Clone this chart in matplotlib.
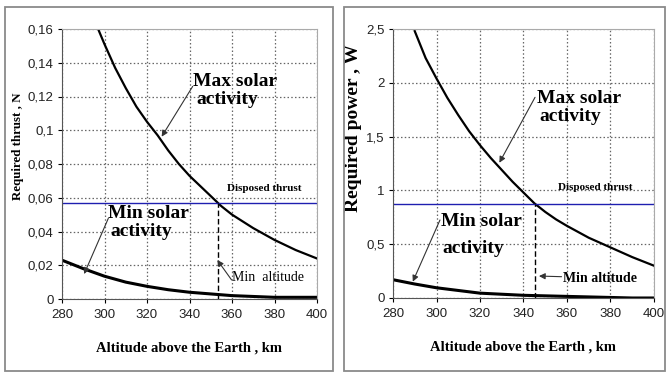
"""
Two panels: thrust and power needed to hold altitude, max / min solar activity
"""
import matplotlib
matplotlib.use('Agg')
import matplotlib.pyplot as plt
from matplotlib.patches import Rectangle
from matplotlib.ticker import FuncFormatter

# data
alt_max_thrust = [297, 300, 305, 310, 315, 320, 325, 330, 335, 340, 345, 350, 355,
                  360, 370, 380, 390, 400]
thrust_max = [0.160, 0.151, 0.137, 0.125, 0.114, 0.105, 0.097, 0.088, 0.080, 0.073,
              0.067, 0.061, 0.055, 0.050, 0.042, 0.035, 0.029, 0.024]
alt_min = [280, 290, 300, 310, 320, 330, 340, 350, 360, 370, 380, 390, 400]
thrust_min = [0.023, 0.018, 0.0135, 0.010, 0.0075, 0.0055, 0.004, 0.003, 0.002,
              0.0015, 0.001, 0.001, 0.001]
disposed_thrust = 0.0567
min_alt_thrust = 353.6

alt_max_power = [290, 295, 300, 305, 310, 315, 320, 325, 330, 335, 340, 345, 350,
                 355, 360, 370, 380, 390, 400]
power_max = [2.48, 2.23, 2.04, 1.86, 1.70, 1.55, 1.42, 1.30, 1.19, 1.08, 0.98, 0.88,
             0.80, 0.73, 0.67, 0.56, 0.47, 0.38, 0.30]
power_min = [0.17, 0.13, 0.095, 0.07, 0.045, 0.035, 0.025, 0.02, 0.015, 0.01, 0.005,
             0.0, 0.0]
disposed_power = 0.874
min_alt_power = 345.3

x_ticks = [280, 300, 320, 340, 360, 380, 400]
thrust_ticks = [0, 0.02, 0.04, 0.06, 0.08, 0.1, 0.12, 0.14, 0.16]
power_ticks = [0, 0.5, 1, 1.5, 2, 2.5]

W, H = 667, 374
fig = plt.figure(figsize=(W / 100, H / 100), dpi=100)
fig.patch.set_facecolor('white')

# panel frames
for x0, x1 in [(5, 333), (344, 665)]:
    fig.patches.append(Rectangle((x0 / W, 1 - 371 / H), (x1 - x0) / W, 364 / H,
                                 transform=fig.transFigure, fill=False,
                                 edgecolor='#8a8a8a', lw=1.3))


def comma(v, pos):
    return ('%g' % v).replace('.', ',')


serif = 'Liberation Serif'
narrow = ['Liberation Sans Narrow', 'Liberation Sans']


def setup(ax, yticks, ymax, ylabel, ylsize, ylcoords):
    ax.set_xlim(280, 400)
    ax.set_ylim(0, ymax)
    ax.set_xticks(x_ticks)
    ax.set_yticks(yticks)
    ax.yaxis.set_major_formatter(FuncFormatter(comma))
    ax.grid(True, color='#666666', linestyle=(0, (1.2, 1.8)), lw=0.9)
    ax.set_axisbelow(True)
    for sp in ['top', 'right']:
        ax.spines[sp].set_color('#aaaaaa')
    for sp in ['left', 'bottom']:
        ax.spines[sp].set_color('#555555')
    ax.tick_params(axis='x', length=3, labelsize=9.5, pad=4)
    ax.tick_params(axis='y', length=3, labelsize=9.5, pad=3)
    for lab in ax.get_xticklabels() + ax.get_yticklabels():
        lab.set_family(narrow)
        lab.set_color('#222222')
    ax.set_xlabel('Altitude above the Earth , km', family=serif, weight='bold',
                  fontsize=10.5, labelpad=15)
    ax.set_ylabel(ylabel, family=serif, weight='bold', fontsize=ylsize)
    ax.yaxis.set_label_coords(*ylcoords)


big = dict(family=serif, weight='bold', fontsize=14, va='center')
small = dict(family=serif, weight='bold', fontsize=8, va='center')
arr = dict(arrowstyle='-|>', color='#333333', lw=0.8, mutation_scale=9,
           shrinkA=0, shrinkB=0)

# thrust panel
ax1 = fig.add_axes([62 / W, 1 - 299 / H, 255 / W, 270 / H])
setup(ax1, thrust_ticks, 0.16, 'Required thrust , N', 9.3, (-0.15, 0.565))
ax1.plot(alt_max_thrust, thrust_max, color='black', lw=1.6)
ax1.plot(alt_min, thrust_min, color='black', lw=2.2)
ax1.axhline(disposed_thrust, color='#1f1fb0', lw=1.0)
ax1.plot([min_alt_thrust, min_alt_thrust], [0, disposed_thrust], color='black',
         lw=1.0, linestyle=(0, (4, 2)))
ax1.text(341.8, 0.1288, 'Max solar', **big)
ax1.text(343.1, 0.118, 'activity', **big)
ax1.text(301.8, 0.0508, 'Min solar', **big)
ax1.text(302.6, 0.0399, 'activity', **big)
ax1.text(357.5, 0.0654, 'Disposed thrust', **small)
ax1.text(359.8, 0.0129, 'Min  altitude', family=serif, fontsize=10, va='center')
ax1.annotate('', xy=(326.9, 0.0962), xytext=(341.5, 0.126), arrowprops=arr)
ax1.annotate('', xy=(290.4, 0.0148), xytext=(301.8, 0.0478), arrowprops=arr)
ax1.annotate('', xy=(353.1, 0.0231), xytext=(359.8, 0.0113), arrowprops=arr)

# power panel
ax2 = fig.add_axes([393 / W, 1 - 298 / H, 261 / W, 269 / H])
setup(ax2, power_ticks, 2.5, 'Required power , W', 14, (-0.119, 0.632))
ax2.plot(alt_max_power, power_max, color='black', lw=1.6)
ax2.plot(alt_min, power_min, color='black', lw=2.2)
ax2.axhline(disposed_power, color='#1f1fb0', lw=1.0)
ax2.plot([min_alt_power, min_alt_power], [0, disposed_power], color='black',
         lw=1.0, linestyle=(0, (4, 2)))
ax2.text(346.1, 1.856, 'Max solar', **big)
ax2.text(347.1, 1.685, 'activity', **big)
ax2.text(302.1, 0.709, 'Min solar', **big)
ax2.text(302.7, 0.462, 'activity', **big)
ax2.text(355.7, 1.029, 'Disposed thrust', **small)
ax2.text(358, 0.183, 'Min altitude', family=serif, weight='bold', fontsize=10,
         va='center')
ax2.annotate('', xy=(328.9, 1.257), xytext=(345.3, 1.865), arrowprops=arr)
ax2.annotate('', xy=(289.1, 0.152), xytext=(301.6, 0.725), arrowprops=arr)
ax2.annotate('', xy=(347.1, 0.204), xytext=(357.5, 0.198), arrowprops=arr)

fig.savefig('out.png', dpi=100)
